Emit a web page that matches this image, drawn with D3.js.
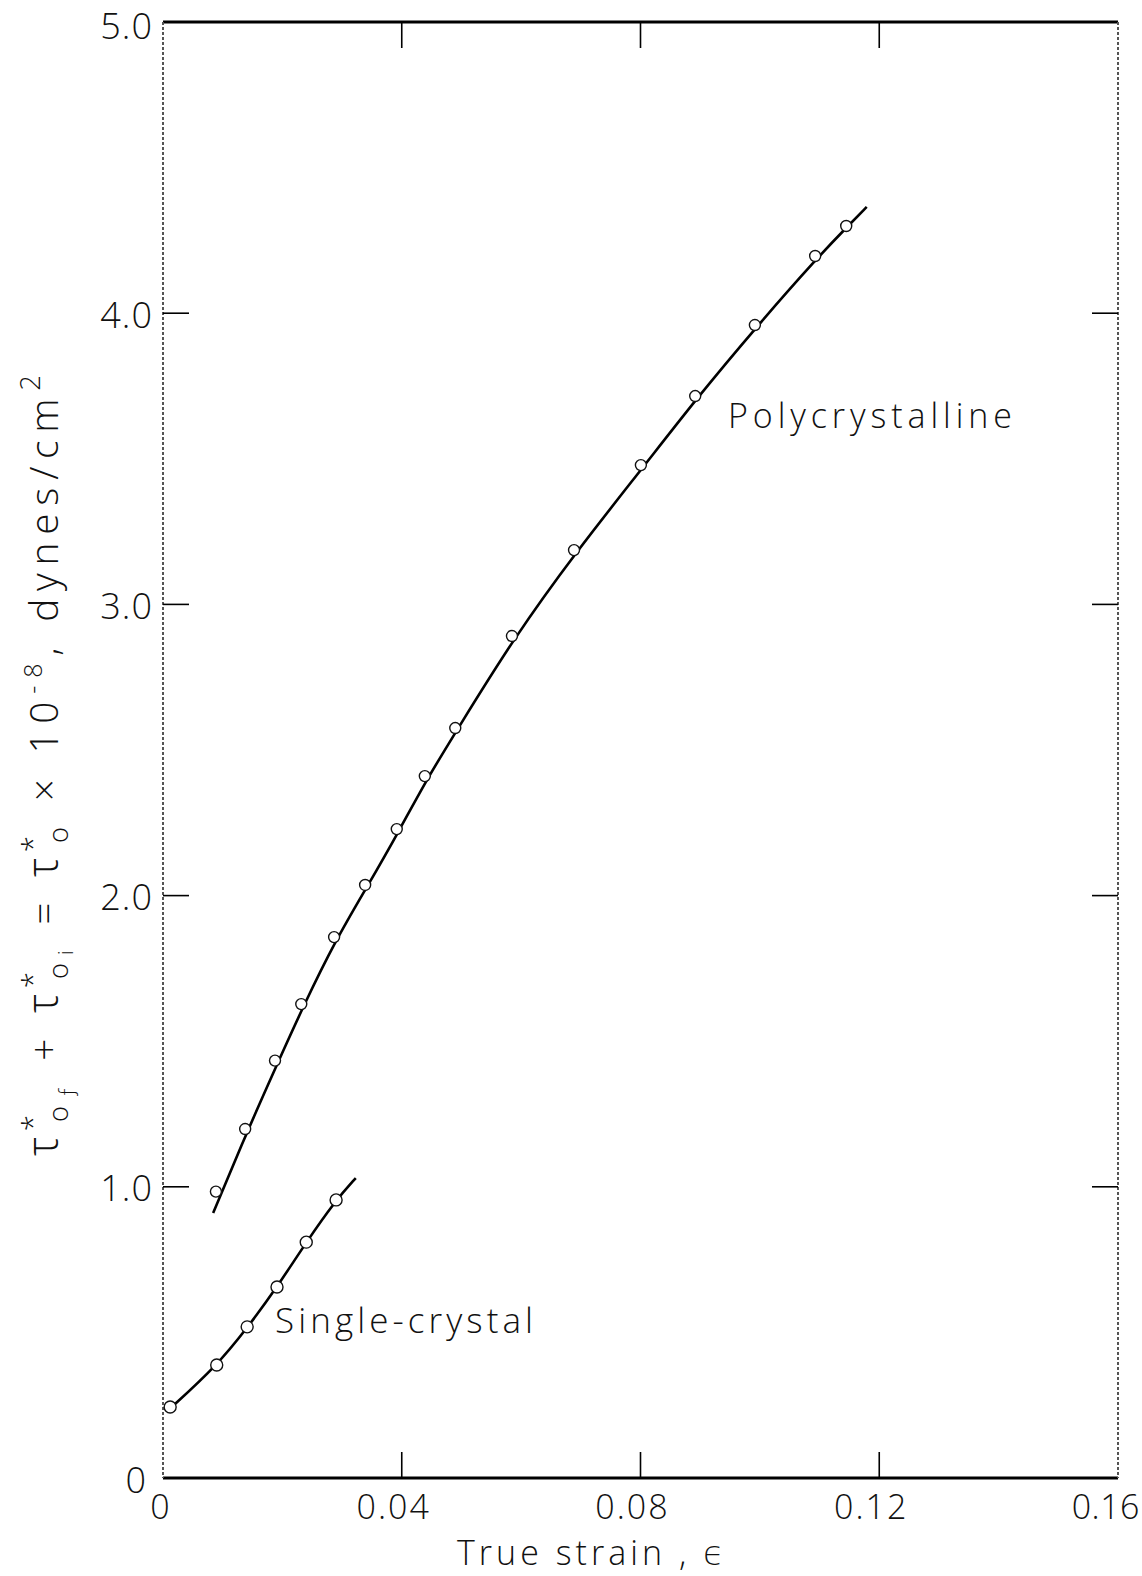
<!DOCTYPE html>
<html>
<head>
<meta charset="utf-8">
<script src="https://cdn.jsdelivr.net/npm/d3@7"></script>
<style>
  html, body { margin: 0; padding: 0; background: #fff; }
  svg { display: block; }
  text { font-family: "Open Sans", "DejaVu Sans", sans-serif; font-weight: 300; fill: #111; }
</style>
</head>
<body>
<svg id="chart" width="1142" height="1576"></svg>
<script>
// Measured points: true strain vs. shear stress (x 10^8 dynes/cm^2)
const polyStrain  = [0.0092, 0.0141, 0.0191, 0.0235, 0.0290, 0.0342, 0.0395, 0.0442, 0.0493, 0.0588, 0.0692, 0.0804, 0.0895, 0.0995, 0.1096, 0.1148];
const polyStress  = [0.98, 1.195, 1.43, 1.624, 1.854, 2.033, 2.225, 2.407, 2.572, 2.888, 3.183, 3.475, 3.712, 3.956, 4.193, 4.296];
const singleStrain = [0.0012, 0.0090, 0.0141, 0.0191, 0.0240, 0.0290];
const singleStress = [0.244, 0.388, 0.519, 0.656, 0.81, 0.955];

// Smooth fitted curves drawn through the data
const polyFitStrain  = [0.0084, 0.0141, 0.0191, 0.0235, 0.0290, 0.0342, 0.0395, 0.0442, 0.0493, 0.0588, 0.0692, 0.0804, 0.0895, 0.0995, 0.1096, 0.1148, 0.1179];
const polyFitStress  = [0.91, 1.19, 1.42, 1.62, 1.85, 2.03, 2.22, 2.40, 2.57, 2.885, 3.18, 3.47, 3.71, 3.955, 4.19, 4.30, 4.365];
const singleFitStrain = [0.0010, 0.0090, 0.0141, 0.0191, 0.0240, 0.0290, 0.0323];
const singleFitStress = [0.235, 0.385, 0.515, 0.655, 0.81, 0.955, 1.03];

const xTickValues = [0, 0.04, 0.08, 0.12, 0.16];
const xTickLabels = ["0", "0.04", "0.08", "0.12", "0.16"];
const yTickValues = [0, 1, 2, 3, 4, 5];
const yTickLabels = ["0", "1.0", "2.0", "3.0", "4.0", "5.0"];
const innerTickX = [0.04, 0.08, 0.12];
const innerTickY = [1, 2, 3, 4];

const svg = d3.select("#chart");
svg.append("rect").attr("width", 1142).attr("height", 1576).attr("fill", "#fff");

const x = d3.scaleLinear().domain([0, 0.16]).range([163, 1118]);
const y = d3.scaleLinear().domain([0, 5]).range([1478, 22]);

// Frame: heavy top and bottom rules, light grainy sides
const frame = svg.append("g");
frame.append("line").attr("x1", x(0)).attr("x2", x(0.16)).attr("y1", y(5)).attr("y2", y(5))
  .attr("stroke", "#000").attr("stroke-width", 3);
frame.append("line").attr("x1", x(0)).attr("x2", x(0.16)).attr("y1", y(0)).attr("y2", y(0))
  .attr("stroke", "#000").attr("stroke-width", 3);
[0, 0.16].forEach(v => {
  frame.append("line").attr("x1", x(v)).attr("x2", x(v)).attr("y1", y(5)).attr("y2", y(0))
    .attr("stroke", "#555").attr("stroke-width", 2).attr("stroke-dasharray", "3,2");
});

// Inward ticks on all four sides
const tickLen = 26;
innerTickX.forEach(v => {
  frame.append("line").attr("x1", x(v)).attr("x2", x(v)).attr("y1", y(5)).attr("y2", y(5) + tickLen)
    .attr("stroke", "#000").attr("stroke-width", 1.6);
  frame.append("line").attr("x1", x(v)).attr("x2", x(v)).attr("y1", y(0)).attr("y2", y(0) - tickLen)
    .attr("stroke", "#000").attr("stroke-width", 1.6);
});
innerTickY.forEach(v => {
  frame.append("line").attr("x1", x(0)).attr("x2", x(0) + tickLen).attr("y1", y(v)).attr("y2", y(v))
    .attr("stroke", "#000").attr("stroke-width", 1.6);
  frame.append("line").attr("x1", x(0.16)).attr("x2", x(0.16) - tickLen).attr("y1", y(v)).attr("y2", y(v))
    .attr("stroke", "#000").attr("stroke-width", 1.6);
});

// Tick labels
svg.append("g").selectAll("text").data(yTickValues).join("text")
  .attr("x", d => d === 0 ? 147 : 153).attr("y", d => d === 5 ? y(d) + 3 : y(d) + 1)
  .attr("text-anchor", "end").attr("dominant-baseline", "central")
  .attr("font-size", 36).attr("letter-spacing", 1)
  .text((d, i) => yTickLabels[i]);

svg.append("g").selectAll("text").data(xTickValues).join("text")
  .attr("x", d => d === 0 ? x(d) - 2 : (d === 0.16 ? 1140 : x(d) - 8)).attr("y", 1506)
  .attr("text-anchor", d => d === 0.16 ? "end" : "middle").attr("dominant-baseline", "central")
  .attr("font-size", 34).attr("letter-spacing", d => d === 0.16 ? 0.5 : 2)
  .text((d, i) => xTickLabels[i]);

// Axis titles
svg.append("text").attr("x", 457).attr("y", 1565).attr("font-size", 34)
  .attr("textLength", 267).attr("lengthAdjust", "spacing")
  .text("True strain , \u03F5");

// Rotated stress title with stacked superscript/subscript marks
const yTitle = svg.append("text").attr("transform", "translate(58,1156) rotate(-90)");
function buildTitle(k) {
  yTitle.selectAll("*").remove();
  const seg = (t, size, dx, dy) => yTitle.append("tspan")
    .attr("font-size", size * k).attr("dx", (dx || 0) * k).attr("dy", (dy || 0) * k).text(t);
  const tauStar = sub => {
    seg("\u03C4", 38);
    seg("*", 26, -2, -13);
    seg("o", 24, -13, 22);
    if (sub) { seg(sub, 18, 0, 4); return 13; }
    return 9;
  };
  let s = tauStar("\u0192");
  seg(" + ", 34, 0, -s);
  s = tauStar("i");
  seg(" = ", 34, 0, -s);
  s = tauStar(null);
  seg(" \u00D7 10", 34, 0, -s);
  seg("-8", 22, 0, -14);
  seg(", dynes/cm", 34, 0, 14);
  seg("2", 24, 0, -16);
}
buildTitle(1.14);
{
  const len = yTitle.node().getComputedTextLength();
  const chars = yTitle.text().length;
  yTitle.selectAll("tspan").attr("letter-spacing", Math.max(0, (840 - len) / chars));
}

// Curves and data markers
const line = d3.line().x(d => x(d[0])).y(d => y(d[1])).curve(d3.curveBasis);
const polyFit = d3.zip(polyFitStrain, polyFitStress);
const singleFit = d3.zip(singleFitStrain, singleFitStress);
svg.append("path").attr("d", line(polyFit)).attr("fill", "none").attr("stroke", "#000").attr("stroke-width", 2.6);
svg.append("path").attr("d", line(singleFit)).attr("fill", "none").attr("stroke", "#000").attr("stroke-width", 2.6);

const marks = svg.append("g").attr("fill", "#fff").attr("stroke", "#111").attr("stroke-width", 1.4);
marks.selectAll("circle.p").data(d3.zip(polyStrain, polyStress)).join("circle")
  .attr("class", "p").attr("cx", d => x(d[0]) - 2).attr("cy", d => y(d[1]) - 1).attr("r", 5.5);
marks.selectAll("circle.s").data(d3.zip(singleStrain, singleStress)).join("circle")
  .attr("class", "s").attr("cx", d => x(d[0])).attr("cy", d => y(d[1])).attr("r", 6);

// Curve labels
svg.append("text").attr("x", 728).attr("y", 428).attr("font-size", 34)
  .attr("textLength", 284).attr("lengthAdjust", "spacing").text("Polycrystalline");
svg.append("text").attr("x", 275).attr("y", 1333).attr("font-size", 35)
  .attr("textLength", 258).attr("lengthAdjust", "spacing").text("Single-crystal");
</script>
</body>
</html>
